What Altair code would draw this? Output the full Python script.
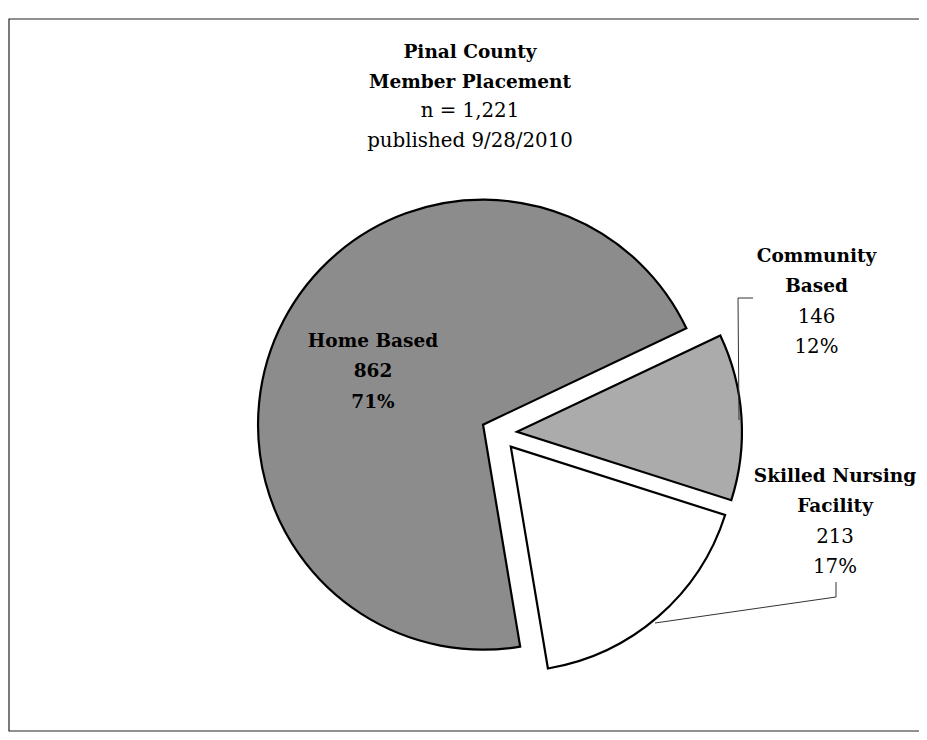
import math
import altair as alt
import pandas as pd

# ---------------- data ----------------
categories = ["Home Based", "Community Based", "Skilled Nursing Facility"]
counts = [862, 146, 213]
name_lines = [["Home Based"], ["Community", "Based"], ["Skilled Nursing", "Facility"]]
title_bold = ["Pinal County", "Member Placement"]
title_plain = ["n = 1,221", "published 9/28/2010"]

# ---------------- layout / style ----------------
W, H = 911, 724
CX, CY = 491, 425          # pie centre (plot coords)
R = 225                    # radius
EXPLODE = 18               # slice explosion
START_DEG = 170.5          # first slice starts here (clockwise from 12 o'clock)
FONT = "DejaVu Serif"
BOLD_SIZE = 18.5
PLAIN_SIZE = 19.8
LINE_H = 30.3
fills = ["#8c8c8c", "#ababab", "#ffffff"]

label_x = {"Home Based": 365, "Community Based": 808.5, "Skilled Nursing Facility": 827}
label_y0 = {"Home Based": 339, "Community Based": 254, "Skilled Nursing Facility": 474}
home_all_bold = {"Home Based": True, "Community Based": False, "Skilled Nursing Facility": False}

TITLE_X = 462
TITLE_Y0 = 50
TITLE_LINE_H = 29.5

leaders = pd.DataFrame({
    "x": [730, 730, 828, 828],
    "y": [290, 290, 574, 589],
    "x2": [745, 731, 828, 647],
    "y2": [290, 412, 589, 615],
})

total = sum(counts)
a0 = math.radians(START_DEG)

# ---------------- pie ----------------
pie_df = pd.DataFrame({"category": categories, "count": counts, "order": list(range(len(counts)))})

pie = (
    alt.Chart(pie_df)
    .transform_window(cum="sum(count)", sort=[alt.SortField("order")], frame=[None, 0])
    .transform_calculate(
        start="datum.cum - datum.count",
        mid=f"{a0} + 2*PI*(datum.cum - datum.count/2)/{total}",
    )
    .transform_calculate(
        cx=f"{CX} + {EXPLODE}*sin(datum.mid)",
        cy=f"{CY} - {EXPLODE}*cos(datum.mid)",
    )
    .mark_arc(radius=R, stroke="black", strokeWidth=2.2, strokeJoin="miter")
    .encode(
        theta=alt.Theta("start:Q", scale=alt.Scale(domain=[0, total], range=[a0, a0 + 2 * math.pi])),
        theta2=alt.Theta2("cum:Q"),
        x=alt.X("cx:Q", scale=None, axis=None),
        y=alt.Y("cy:Q", scale=None, axis=None),
        color=alt.Color("category:N", scale=alt.Scale(domain=categories, range=fills), legend=None),
    )
)

# ---------------- labels ----------------
rows = []
for cat, cnt, names in zip(categories, counts, name_lines):
    lines = [(n, True) for n in names]
    lines += [(str(cnt), home_all_bold[cat]), (f"{round(100 * cnt / total)}%", home_all_bold[cat])]
    for i, (t, b) in enumerate(lines):
        rows.append({"text": t, "bold": b,
                     "lx": label_x[cat], "ly": label_y0[cat] + i * LINE_H})
lab_df = pd.DataFrame(rows)

lab_bold = (
    alt.Chart(lab_df[lab_df["bold"]])
    .mark_text(font=FONT, fontSize=BOLD_SIZE, fontWeight="bold", align="center", baseline="alphabetic", color="black")
    .encode(x=alt.X("lx:Q", scale=None, axis=None), y=alt.Y("ly:Q", scale=None, axis=None), text="text:N")
)
lab_plain = (
    alt.Chart(lab_df[~lab_df["bold"]])
    .mark_text(font=FONT, fontSize=PLAIN_SIZE, align="center", baseline="alphabetic", color="black")
    .encode(x=alt.X("lx:Q", scale=None, axis=None), y=alt.Y("ly:Q", scale=None, axis=None), text="text:N")
)

lead = (
    alt.Chart(leaders)
    .mark_rule(color="#333333", strokeWidth=1)
    .encode(x=alt.X("x:Q", scale=None, axis=None), y=alt.Y("y:Q", scale=None, axis=None),
            x2="x2:Q", y2="y2:Q")
)

# ---------------- title ----------------
t_rows = [{"text": t, "bold": True} for t in title_bold] + [{"text": t, "bold": False} for t in title_plain]
for i, r in enumerate(t_rows):
    r["ty"] = TITLE_Y0 + i * TITLE_LINE_H
    r["tx"] = TITLE_X
t_df = pd.DataFrame(t_rows)

title_b = (
    alt.Chart(t_df[t_df["bold"]])
    .mark_text(font=FONT, fontSize=BOLD_SIZE, fontWeight="bold", align="center", baseline="alphabetic", color="black")
    .encode(x=alt.X("tx:Q", scale=None, axis=None), y=alt.Y("ty:Q", scale=None, axis=None), text="text:N")
)
title_p = (
    alt.Chart(t_df[~t_df["bold"]])
    .mark_text(font=FONT, fontSize=PLAIN_SIZE, align="center", baseline="alphabetic", color="black")
    .encode(x=alt.X("tx:Q", scale=None, axis=None), y=alt.Y("ty:Q", scale=None, axis=None), text="text:N")
)

# ---------------- border ----------------
border = (
    alt.Chart(pd.DataFrame({"k": [0]}))
    .mark_rect(fill="transparent", stroke="#222222", strokeWidth=1.2)
    .encode(x=alt.value(1), x2=alt.value(W + 20), y=alt.value(11), y2=alt.value(H - 1))
)

chart = (
    alt.layer(border, pie, lead, lab_bold, lab_plain, title_b, title_p)
    .resolve_scale(x="independent", y="independent")
    .properties(width=W, height=H, padding=0, autosize=alt.AutoSizeParams(type="none"), background="white")
    .configure_view(stroke="transparent")
)

chart.save("out.html", embed_options={"renderer": "svg", "actions": False})
